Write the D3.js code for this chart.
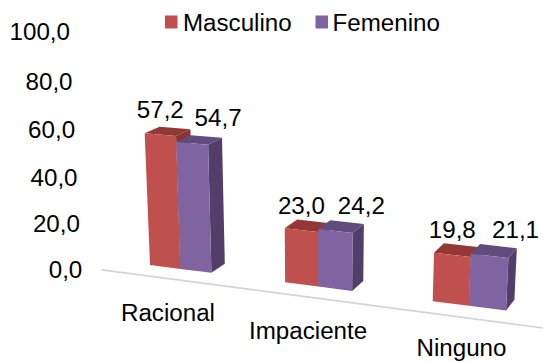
<!DOCTYPE html>
<html>
<head>
<meta charset="utf-8">
<script src="https://cdn.jsdelivr.net/npm/d3@7"></script>
<style>
  html, body { margin: 0; padding: 0; background: #ffffff; }
  svg { display: block; font-family: "Liberation Sans", Arial, Helvetica, sans-serif; }
</style>
</head>
<body>
<svg id="chart" width="543" height="362"></svg>
<script>
// ---- data ----
const categories = ["Racional", "Impaciente", "Ninguno"];
const seriesNames = ["Masculino", "Femenino"];
const masculino = [57.2, 23.0, 19.8];
const femenino = [54.7, 24.2, 21.1];
const yTicks = [0, 20, 40, 60, 80, 100];

// ---- styling ----
const palette = {
  Masculino: { front: "#C0504D", top: "#943836", side: "#8A3331" },
  Femenino:  { front: "#8064A2", top: "#614C7E", side: "#513F69" }
};
const fontSize = 23;
const textStretch = 1.05;

const svg = d3.select("#chart");
const W = 543, H = 362;

// ---- world scales (category axis, value axis, depth) ----
const x = d3.scaleBand().domain(categories).range([0, 1]).paddingInner(0.535).paddingOuter(0);
const xInner = d3.scaleBand().domain(seriesNames).range([0, x.bandwidth()]).padding(0);
const y = d3.scaleLinear().domain([0, 100]).range([0, 1]);

// ---- perspective camera: screen image of the world origin plus the
//      vanishing points of the three world axes ----
const origin = [150, 265];
const vanish = {
  x: { p: [-2937, -130.6], w: -0.1034 },
  y: { p: [318, 4437],     w: -0.0535 },
  z: { p: [902, -202],     w: 0.0194 }
};
function project(X, Y, Z) {
  const hx = X * vanish.x.w * vanish.x.p[0] + Y * vanish.y.w * vanish.y.p[0] + Z * vanish.z.w * vanish.z.p[0] + origin[0];
  const hy = X * vanish.x.w * vanish.x.p[1] + Y * vanish.y.w * vanish.y.p[1] + Z * vanish.z.w * vanish.z.p[1] + origin[1];
  const hw = X * vanish.x.w + Y * vanish.y.w + Z * vanish.z.w + 1;
  return [hx / hw, hy / hw];
}
const poly = pts => "M" + pts.map(p => project(...p).map(v => v.toFixed(2)).join(",")).join("L") + "Z";

const decimalComma = d3.formatLocale({ decimal: ",", thousands: ".", grouping: [3], currency: ["", ""] }).format(".1f");

function addText(g, str, px, py, anchor) {
  return g.append("text")
    .attr("transform", `translate(${px},${py}) scale(${textStretch},1)`)
    .attr("text-anchor", anchor)
    .attr("font-size", fontSize)
    .attr("fill", "#000")
    .text(str);
}

// ---- floor front edge ----
const floorZ = -1;
const floorL = project(-0.104, 0, floorZ), floorR = project(1.14, 0, floorZ);
svg.append("line")
  .attr("x1", floorL[0]).attr("y1", floorL[1])
  .attr("x2", floorR[0]).attr("y2", floorR[1])
  .attr("stroke", "#d4d4d4").attr("stroke-width", 1.6);

// ---- value axis tick labels ----
const axisG = svg.append("g").attr("class", "y-axis");
yTicks.forEach(t => {
  const p = project(-0.104, y(t), floorZ);
  addText(axisG, decimalComma(t), p[0] - 19.5, p[1] + 8, "end");
});

// ---- bars ----
const rows = categories.map((c, i) => ({ cat: c, values: [
  { s: "Masculino", v: masculino[i] },
  { s: "Femenino", v: femenino[i] }
]}));

const barsG = svg.append("g").attr("class", "bars");
rows.forEach(row => {
  row.values.forEach(d => {
    const x0 = x(row.cat) + xInner(d.s);
    const x1 = x0 + xInner.bandwidth();
    const h = y(d.v);
    const c = palette[d.s];
    const g = barsG.append("g");
    g.append("path").attr("d", poly([[x1, 0, 0], [x1, 0, 1], [x1, h, 1], [x1, h, 0]])).attr("fill", c.side);
    g.append("path").attr("d", poly([[x0, h, 0], [x1, h, 0], [x1, h, 1], [x0, h, 1]])).attr("fill", c.top);
    g.append("path").attr("d", poly([[x0, 0, 0], [x1, 0, 0], [x1, h, 0], [x0, h, 0]])).attr("fill", c.front);
  });
});

// ---- data labels ----
const labelShift = { Masculino: [0, -24.5], Femenino: [26, -25.5] };
const labelsG = svg.append("g").attr("class", "labels");
rows.forEach(row => {
  row.values.forEach(d => {
    const xc = x(row.cat) + xInner(d.s) + xInner.bandwidth() / 2;
    const p = project(xc, y(d.v), 0);
    const s = labelShift[d.s];
    addText(labelsG, decimalComma(d.v), p[0] + s[0], p[1] + s[1] + 8, "middle");
  });
});

// ---- category labels (kept clear of the bottom edge so descenders stay visible) ----
const catG = svg.append("g").attr("class", "x-axis");
categories.forEach(c => {
  const p = project(x(c) + x.bandwidth() / 2, 0, floorZ);
  addText(catG, c, p[0] + 2, Math.min(p[1] + 42.5, H - 6), "middle");
});

// ---- legend ----
const legendG = svg.append("g").attr("class", "legend");
const legendItems = [
  { s: "Masculino", sx: 165, tx: 183 },
  { s: "Femenino", sx: 315.5, tx: 332.5 }
];
legendItems.forEach(it => {
  legendG.append("rect").attr("x", it.sx).attr("y", 15.5).attr("width", 12.5).attr("height", 13)
    .attr("fill", palette[it.s].front);
  addText(legendG, it.s, it.tx, 31, "start");
});
</script>
</body>
</html>
